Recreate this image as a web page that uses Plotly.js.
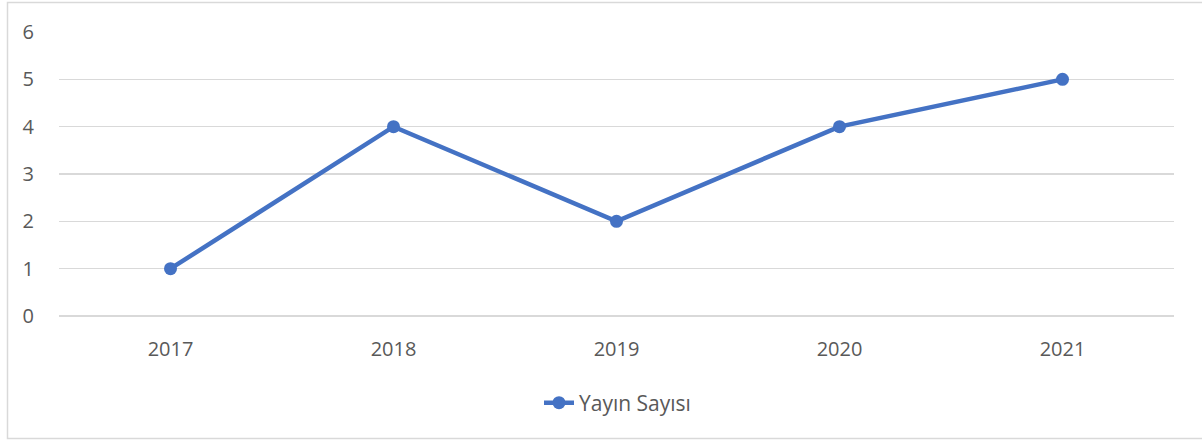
<!DOCTYPE html>
<html>
<head>
<meta charset="utf-8">
<script src="https://cdn.plot.ly/plotly-3.0.1.min.js"></script>
<style>html,body{margin:0;padding:0;background:#fff;}#chart{width:1202px;height:441px;}</style>
</head>
<body>
<div id="chart"></div>
<script>
const years = ["2017", "2018", "2019", "2020", "2021"];
const yayinSayisi = [1, 4, 2, 4, 5];
const seriesName = "Yayın Sayısı";
const yTicks = [0, 1, 2, 3, 4, 5, 6];

const W = 1202, H = 441;
const m = {l: 59, r: 28, t: 32, b: 125};
const pw = W - m.l - m.r, ph = H - m.t - m.b;
const px = v => (v - m.l) / pw;
const py = v => (H - m.b - v) / ph;

const trace = {
  x: years, y: yayinSayisi, name: seriesName,
  type: 'scatter', mode: 'lines+markers',
  line: {color: '#4472C4', width: 4.5},
  marker: {color: '#4472C4', size: 13},
  showlegend: true
};

const layout = {
  width: W, height: H,
  margin: m,
  paper_bgcolor: '#fff', plot_bgcolor: '#fff',
  font: {family: 'Open Sans, Liberation Sans, sans-serif', size: 20, color: '#595959'},
  xaxis: {
    type: 'category', range: [-0.5, 4.5],
    showgrid: false, zeroline: false, showline: false,
    ticks: 'outside', ticklen: 15, tickcolor: 'rgba(0,0,0,0)',
    tickfont: {size: 20, color: '#595959'}, fixedrange: true
  },
  yaxis: {
    range: [0, 6], tickvals: yTicks,
    showgrid: true, gridcolor: '#d9d9d9', gridwidth: 1.3,
    zeroline: true, zerolinecolor: '#d9d9d9', zerolinewidth: 1.3, showline: false,
    ticks: 'outside', ticklen: 20, tickcolor: 'rgba(0,0,0,0)',
    tickfont: {size: 20, color: '#595959'}, fixedrange: true
  },
  showlegend: true,
  legend: {
    orientation: 'h', x: px(539), xanchor: 'left', y: py(403), yanchor: 'middle',
    font: {size: 21, color: '#595959'}
  },
  shapes: [{
    type: 'rect', xref: 'paper', yref: 'paper',
    x0: px(7.5), x1: px(1215), y0: py(2.5), y1: py(438.5),
    line: {color: '#d9d9d9', width: 1.5}, fillcolor: 'rgba(0,0,0,0)', layer: 'below'
  }]
};

Plotly.newPlot('chart', [trace], layout, {displayModeBar: false, staticPlot: true});
</script>
</body>
</html>
